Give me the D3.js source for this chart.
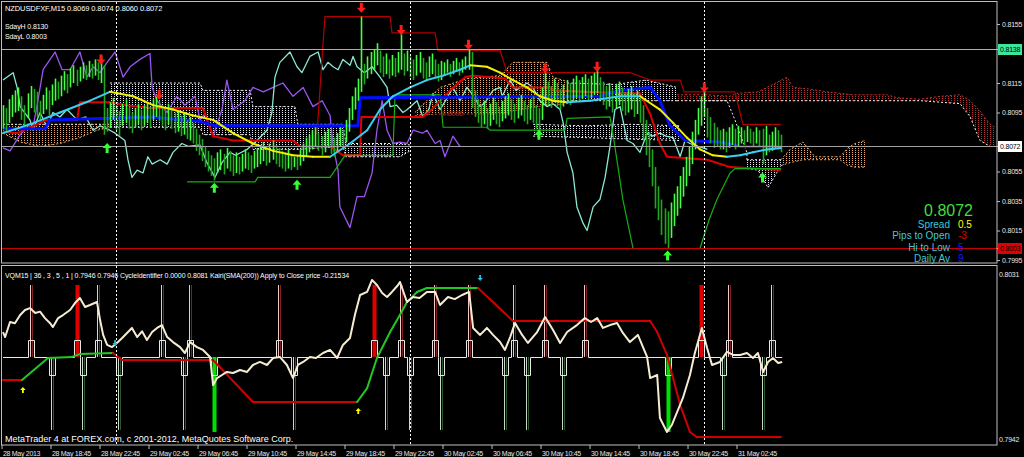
<!DOCTYPE html>
<html><head><meta charset="utf-8">
<script src="https://cdn.jsdelivr.net/npm/d3@7/dist/d3.min.js"></script>
<style>
html,body{margin:0;padding:0;background:#000;overflow:hidden;}
svg{display:block;}
text{font-family:"Liberation Sans",Arial,sans-serif;}
</style></head><body>
<svg id="chart" width="1024" height="457"></svg>
<script>
// ---- price bars, M15 (high / low per bar) ----
var barHigh = [.8100,.8098,.8104,.8107,.8110, .8112,.8106,.8100,.8108,.8113, .8111,.8109,.8103,.8107,.8112,
 .8110,.8114,.8118,.8116,.8120, .8123,.8121,.8125,.8127,.8124, .8126,.8129,.8127,.8130,.8128,
 .8131,.8129,.8133,.8127,.8098, .8102,.8105,.8100,.8096,.8101, .8104,.8099,.8095,.8098,.8101,
 .8097,.8100,.8102,.8099,.8104, .8107,.8103,.8100,.8097,.8101, .8098,.8095,.8096,.8093,.8095,
 .8090,.8092,.8088,.8084,.8080, .8077,.8072,.8069,.8066,.8064, .8068,.8070,.8067,.8071,.8069,
 .8066,.8068,.8065,.8067,.8070, .8068,.8066,.8069,.8071,.8073, .8075,.8072,.8074,.8076,.8073,
 .8071,.8069,.8068,.8070,.8067, .8065,.8066,.8070,.8074,.8078, .8080,.8083,.8085,.8081,.8079,
 .8082,.8084,.8080,.8078,.8081, .8085,.8083,.8090,.8098,.8106, .8112,.8118,.8160,.8128,.8133,
 .8136,.8138,.8142,.8137,.8133, .8135,.8131,.8134,.8132,.8136, .8148,.8135,.8137,.8133,.8131,
 .8134,.8136,.8132,.8129,.8133, .8135,.8131,.8128,.8130,.8129, .8131,.8128,.8130,.8132,.8129,
 .8131,.8133,.8138,.8136,.8110, .8104,.8100,.8103,.8098,.8101, .8105,.8102,.8099,.8103,.8106,
 .8108,.8104,.8101,.8105,.8107, .8103,.8100,.8104,.8106,.8100, .8098,.8112,.8122,.8116,.8113,
 .8118,.8115,.8111,.8114,.8117, .8115,.8118,.8120,.8117,.8119, .8121,.8118,.8120,.8122,.8124,
 .8119,.8116,.8113,.8115,.8111, .8114,.8116,.8112,.8109,.8111, .8113,.8108,.8110,.8105,.8100,
 .8090,.8082,.8070,.8058,.8045, .8036,.8030,.8028,.8034,.8040, .8045,.8052,.8058,.8065,.8072,
 .8082,.8090,.8098,.8106,.8112, .8098,.8092,.8088,.8085,.8083, .8084,.8082,.8085,.8087,.8084,
 .8086,.8085,.8083,.8086,.8084, .8082,.8085,.8083,.8084,.8086, .8080,.8082,.8085,.8083,.8080];
var barLow = [.8084,.8082,.8088,.8092,.8095, .8096,.8090,.8085,.8091,.8098, .8095,.8092,.8089,.8094,.8097,
 .8093,.8100,.8103,.8104,.8106, .8110,.8108,.8112,.8115,.8113, .8116,.8118,.8117,.8119,.8118,
 .8120,.8117,.8115,.8080,.8082, .8085,.8090,.8083,.8079,.8086, .8088,.8084,.8081,.8085,.8087,
 .8083,.8086,.8088,.8085,.8090, .8092,.8089,.8086,.8083,.8087, .8084,.8081,.8082,.8079,.8080,
 .8077,.8076,.8074,.8069,.8066, .8062,.8058,.8055,.8052,.8049, .8054,.8056,.8053,.8057,.8055,
 .8052,.8054,.8053,.8055,.8057, .8056,.8054,.8057,.8058,.8060, .8062,.8059,.8061,.8063,.8060,
 .8058,.8057,.8055,.8057,.8056, .8058,.8056,.8059,.8062,.8065, .8068,.8070,.8072,.8069,.8066,
 .8068,.8071,.8067,.8065,.8068, .8072,.8070,.8075,.8082,.8090, .8097,.8103,.8109,.8114,.8118,
 .8121,.8124,.8127,.8122,.8119, .8121,.8118,.8120,.8119,.8122, .8124,.8120,.8123,.8119,.8117,
 .8120,.8122,.8118,.8116,.8119, .8121,.8118,.8116,.8117,.8120, .8122,.8119,.8121,.8123,.8120,
 .8122,.8124,.8124,.8098,.8092, .8088,.8085,.8087,.8084,.8086, .8090,.8087,.8085,.8089,.8091,
 .8093,.8090,.8088,.8091,.8093, .8089,.8087,.8090,.8088,.8084, .8081,.8090,.8100,.8100,.8098,
 .8102,.8099,.8097,.8099,.8101, .8100,.8103,.8105,.8102,.8104, .8106,.8103,.8105,.8107,.8108,
 .8104,.8100,.8097,.8099,.8095, .8098,.8100,.8096,.8093,.8095, .8097,.8092,.8094,.8088,.8076,
 .8066,.8058,.8045,.8030,.8022, .8012,.8006,.8003,.8010,.8018, .8025,.8030,.8038,.8045,.8052,
 .8060,.8070,.8080,.8086,.8092, .8078,.8074,.8071,.8072,.8070, .8070,.8068,.8071,.8073,.8070,
 .8072,.8074,.8073,.8075,.8074, .8072,.8074,.8072,.8060,.8066, .8068,.8069,.8071,.8070,.8068];

// ---- time axis ----
var timeBars = [0,16,32,48,64,80,96,112,128,144,160,176,192,208,224,240];
var timeLabels = ["28 May 2013","28 May 18:45","28 May 22:45","29 May 02:45","29 May 06:45","29 May 10:45",
 "29 May 14:45","29 May 18:45","29 May 22:45","30 May 02:45","30 May 06:45","30 May 10:45",
 "30 May 14:45","30 May 18:45","30 May 22:45","31 May 02:45"];
var daySeparators = [37,133,229];

// ---- price axis (0.8135 and 0.8075 sit under the level boxes) ----
var priceTicks = [0.8155,0.8115,0.8095,0.8055,0.8035,0.8015,0.7995];
var levelPrices = [0.8138,0.8072,0.8003];  // SdayH, bid, SdayL

// ---- indicator lines on the price window: [bar, price] ----
var violetLine = [[0,.8071],[2.3,.8069],[5.6,.8080],[7.8,.8085],[9.8,.8085],[11.4,.8103],[13.1,.8124],[17,.8136],
 [19.3,.8124],[21.9,.8124],[25.1,.8136],[27.4,.8119],[29.4,.8126],[31.7,.8122],[34,.8129],[36.6,.8136],[39.2,.8119],
 [41.5,.8126],[44.7,.8131],[48,.8135],[48.7,.8112],[50.3,.8103],[53.6,.8095],[56.8,.8106],[59.4,.8100],[62.7,.8106],
 [64.3,.8090],[65.9,.8094],[68.6,.8079],[71.5,.8097],[73.1,.8117],[75.1,.8097],[79,.8103],[81.6,.8112],[85,.8109],
 [88.2,.8112],[91.4,.8115],[94.7,.8106],[98,.8112],[101.2,.8099],[104.2,.8103],[106.8,.8093],[107.8,.8072],
 [109.4,.8056],[110,.8031],[113.3,.8017],[115.6,.8038],[118,.8038],[120.5,.8054],[122.1,.8083],[123.8,.8103],
 [125.4,.8083],[127.3,.8074],[129.6,.8075],[131.9,.8074],[133.9,.8083],[137,.8081],[138.4,.8083],[141.1,.8074],
 [142.7,.8076],[144.3,.8065],[146.9,.8079],[149.2,.8072]];
var aquaLine = [[0,.8117],[3.3,.8122],[4.6,.8112],[5.6,.8099],[8.8,.8090],[9.8,.8083],[12.1,.8095],[14.4,.8085],
 [16.3,.8095],[18.6,.8092],[20.9,.8097],[24.2,.8090],[27,.8092],[29.4,.8083],[31.7,.8086],[34.9,.8083],[36.6,.8081],
 [39.8,.8076],[40.8,.8063],[42.1,.8051],[43.8,.8056],[45.7,.8054],[47.3,.8065],[48.7,.8060],[51.3,.8063],[53.6,.8060],
 [55.5,.8068],[58.4,.8074],[60.5,.8072],[64.3,.8073],[66.6,.8061],[69.2,.8051],[71.5,.8061],[74.1,.8068],[76,.8066],
 [79.7,.8070],[82.9,.8076],[86.2,.8083],[87.8,.8095],[88.8,.8119],[90.4,.8129],[93.7,.8136],[96,.8126],[97.6,.8122],
 [100.2,.8133],[102.9,.8136],[104.5,.8124],[106.1,.8129],[107.8,.8126],[109.4,.8124],[111,.8131],[113.3,.8127],
 [114.3,.8133],[115.6,.8126],[118,.8122],[120.5,.8126],[123.1,.8119],[125.4,.8112],[126.4,.8099],[128.5,.8100],
 [130.6,.8095],[132,.8097],[135.2,.8103],[137.1,.8092],[139,.8097],[140.4,.8108],[142.7,.8097],[144.5,.8103],
 [146.9,.8112],[149.2,.8103],[151.5,.8112],[153,.8108],[155.8,.8099],[157.5,.8102],[160,.8110],[162.3,.8112],
 [163,.8106],[165.6,.8117],[167.5,.8110],[171.1,.8115],[173,.8112],[175.3,.8103],[177.6,.8099],[179.6,.8101],
 [181.9,.8097],[182.9,.8088],[184.2,.8068],[186.1,.8054],[187.4,.8031],[189.4,.8020],[190.7,.8015],[192.7,.8031],
 [194.9,.8036],[196.6,.8051],[198.2,.8072],[199.8,.8097],[201.5,.8099],[203.8,.8076],[205.7,.8074],[208,.8068],
 [210.3,.8081],[212,.8079],[214.5,.8081],[216.5,.8079],[218.8,.8078],[221.1,.8065],[222.7,.8076],[224.3,.8074],
 [227,.8072],[230,.8070]];
// moving average, drawn cyan while rising and yellow while falling
var maLine = [[0,.8081],[8.8,.8087],[18.6,.8095],[28.4,.8103],[34.9,.8109],[42.5,.8106],[49,.8100],[55.5,.8097],
 [62,.8093],[68.6,.8090],[75.1,.8081],[81.6,.8074],[88.2,.8069],[94.7,.8066],[101.2,.8065],[106.8,.8065],
 [113.3,.8074],[118.9,.8083],[123.1,.8097],[127.3,.8106],[132.9,.8112],[138.4,.8117],[143.7,.8120],[149.2,.8124],
 [152.5,.8127],[158,.8126],[162.3,.8122],[166.5,.8117],[171.1,.8112],[175.3,.8106],[179.6,.8103],[184.2,.8102],
 [191.7,.8103],[201.5,.8106],[208,.8106],[214.5,.8097],[218.8,.8088],[223.3,.8078],[227.6,.8070],[231.8,.8066],
 [236.4,.8065],[240.7,.8066],[244.9,.8068],[249.5,.8070],[254,.8071]];
var blueLine = [[0,.8084],[13.7,.8084],[15.3,.8090],[31.7,.8091],[48,.8092],[64.3,.8089],[69.2,.8086],[115.9,.8086],
 [116.6,.8105],[194.9,.8106],[201.5,.8110],[211.3,.8112],[214.5,.8103],[217.8,.8086],[222.7,.8076],[234.1,.8075],
 [240.7,.8072],[254,.8072]];
var channelHigh = [[102.5,.8080],[105.1,.8160],[126.4,.8160],[127,.8149],[141.1,.8149],[142,.8137],[162.3,.8137],
 [164.6,.8122],[204.7,.8122],[211.3,.8117],[221.1,.8117],[222.4,.8109],[239,.8109],[241.6,.8087],[254,.8087]];
var redLine = [[0,.8082],[4.6,.8081],[14.4,.8090],[24.2,.8090],[25.1,.8102],[35,.8102],[40,.8100],[48,.8098],
 [65.3,.8098],[68.6,.8079],[75.1,.8076],[94.7,.8076],[97,.8072],[106.8,.8072],[111,.8066],[116.6,.8066],[117,.8092],
 [137,.8092],[140,.8097],[146,.8110],[151,.8119],[153.5,.8120],[164,.8118],[166.5,.8112],[178,.8112],[180,.8110],
 [201.5,.8108],[208,.8108],[211.3,.8094],[214.5,.8074],[216.8,.8065],[230,.8063],[237.4,.8058],[254,.8056]];
var channelLowA = [[60.1,.8048],[82.3,.8048],[83.2,.8051],[106.8,.8051],[111.7,.8066],[127.3,.8066],[128,.8107],
 [142.7,.8107],[143.7,.8085],[158,.8085],[159,.8083],[183.5,.8083],[184.2,.8091],[198.2,.8092],[199.5,.8076],
 [202.4,.8036],[205.7,.8003]];
var channelLowB = [[227.6,.8003],[230.5,.8022],[233.1,.8036],[237.4,.8054],[239,.8057],[254,.8057]];

// ---- clouds: [bar, upper, lower] ----
var cloudPeachA = [[0,.8087,.8081],[5.6,.8087,.8075],[12.1,.8087,.8072],[18.6,.8087,.8074],[25.1,.8087,.8078],
 [30.7,.8087,.8083],[34.9,.8087,.8085]];
var cloudWhiteA = [[34.9,.8115,.8085],[64.3,.8115,.8085],[65.3,.8110,.8080],[80.7,.8110,.8080],[81.6,.8099,.8070],
 [95.3,.8099,.8070],[96.3,.8087,.8070],[111,.8087,.8072],[112,.8074,.8065],[129.6,.8074,.8065],[132.9,.8073,.8069]];
var cloudPeachB = [[134.5,.8095,.8093],[142.7,.8112,.8094],[151.5,.8118,.8094],[162.3,.8120,.8094],[166.5,.8129,.8096],
 [177.6,.8129,.8100],[179.6,.8119,.8100],[184.2,.8116,.8101]];
var cloudWhiteB = [[173.1,.8087,.8079],[190,.8086,.8078],[205,.8087,.8077],[221.1,.8086,.8076]];
var cloudWhiteC = [[184.2,.8115,.8103],[200,.8114,.8103],[210,.8117,.8103],[220.1,.8112,.8103]];
var cloudRed = [[220.1,.8107,.8103],[230,.8107,.8103],[237.4,.8106,.8103],[239.6,.8108,.8103],[246.5,.8109,.8103],
 [251.4,.8114,.8103],[256,.8119,.8103],[258,.8112,.8103],[263,.8111,.8103],[269,.8109,.8103],[277.6,.8107,.8103],
 [288.7,.8107,.8103],[291.9,.8105,.8103],[299.4,.8104,.8103],[306,.8106,.8102],[312.5,.8107,.8101],
 [315.8,.8103,.8092],[319,.8096,.8076],[322.3,.8087,.8072],[323.9,.8085,.8072]];
var cloudPeachC = [[254,.8063,.8059],[257,.8070,.8061],[261.2,.8075,.8063],[265.1,.8065,.8063],[273.3,.8065,.8063],
 [275.9,.8071,.8059],[278.2,.8074,.8058],[281.5,.8076,.8058]];
var cloudWhiteD = [[242.9,.8063,.8057],[246.5,.8063,.8056],[249.8,.8063,.8044],[254,.8063,.8059]];
var spanEdge = [[227.6,.8103],[236.4,.8103],[239,.8090],[242.9,.8068],[242.9,.8063]];

// ---- fractal arrows: [bar, price] ----
var fractalUp = [[32,.8131],[51,.8107],[117,.8166],[130,.8151],[152,.8141],[177,.8125],[194,.8126],[229,.8112]];
var fractalDown = [[34,.8071],[69,.8044],[96,.8046],[175,.8080],[217,.7998],[248,.8051]];

// ---- sub window (oscillator units 0..100) ----
var kairiLine = [[0,63.1],[0.7,60.3],[2.3,68.7],[3.9,68],[5.6,72.6],[7.2,75.4],[8.8,76.5],[10.5,73.7],[12.1,74.5],
 [13.7,70.9],[15.3,68.2],[16.3,65.9],[18,70.9],[19.6,72.6],[21.9,75.4],[23.5,79.3],[25.1,82.1],[26.8,77.1],[28.4,78.2],
 [30.7,79.9],[31.7,69.8],[32.7,61.5],[34,55.9],[35.6,54.7],[37.2,57],[38.9,59.8],[40.5,62.6],[42.1,65.4],[43.8,60.3],
 [45.4,63.5],[47,58.7],[48.7,63.1],[50.3,65.4],[51.9,67],[53.6,60.3],[55.5,57.5],[57.8,54.7],[59.4,51.4],[61.1,57.5],
 [63.3,54.7],[65.3,53.1],[67.6,49.2],[68.6,33.5],[69.9,37.4],[71.5,39.1],[73.1,40.8],[75.1,40.2],[77.4,41.9],
 [79.7,40.8],[81.6,44.7],[83.9,46.4],[86.2,44.7],[88.2,48.6],[90.4,49.2],[92.7,44.7],[94.7,37.4],[96.3,44.7],
 [98,46.4],[100.2,49.2],[102.2,48.6],[104.5,51.4],[106.8,53.1],[109.1,48.6],[111,55.9],[113.3,59.8],[114.9,72.6],
 [116.6,83.8],[118.9,85.5],[120.5,92.2],[122.1,89.4],[123.8,84.9],[125.4,82.7],[127,85.5],[129,89.4],[129.6,91.1],
 [131.9,79.9],[133.9,82.7],[136,82.1],[138.4,85.5],[141.1,85.5],[142.7,78.2],[145.3,82.7],[147.5,81.5],[149.9,83.8],
 [152.2,85.5],[153.5,65.4],[155.8,61.5],[158,65.4],[160,61.5],[162.3,57.5],[163.9,53.1],[165.6,60.3],[167.2,68.2],
 [169.5,61.5],[171.4,57],[174.4,63.1],[177,71.5],[179.6,64.2],[181.9,57],[184.2,63.1],[187.4,67],[190,70.9],
 [192,68.7],[194,70.9],[195.9,65.4],[198.2,67],[200.5,68.2],[202.4,62.6],[204.7,57.5],[207.3,61.5],[210.3,49.2],
 [211.3,37.4],[213.6,39.1],[214.5,15.1],[216.8,7.3],[218.4,11.2],[220.1,18.4],[222,26.3],[224.3,39.1],[225.9,51.4],
 [228.2,65.4],[229.9,54.2],[231.5,44.7],[234.1,46.4],[236.4,52],[238.4,50.3],[240.7,50.3],[242.9,51.4],[244.9,48.6],
 [246.5,51.4],[248.2,40.8],[249.8,46.4],[251.4,48.6],[253.1,45.8],[254.4,46.4]];
// trend line, green while rising, red while falling
var trendLine = [[0,36.3],[6.2,36.3],[14.7,48.6],[22.5,49.2],[25.1,50.8],[35.9,51.4],[38.9,47.5],[68.6,47.5],
 [81.6,24],[115.6,24],[118.9,31.8],[122.1,48.6],[126.4,63.1],[129.6,72.6],[131.9,79.9],[135.2,85.5],[138.4,87.7],
 [155.1,87.7],[166.5,69.3],[211.3,69.3],[213.6,63.1],[216.8,50.3],[221.1,22.3],[224.3,7.3],[226.5,4.5],[254,4.5]];
var cycleHighs = [9,31,52,61,90,130,141,152,167,177,190,237,251];
var cycleMajorHighs = [24,121,228];
var cycleLows = [16,26,38,59,95,125,133,143,164,171,183,235,248];
var cycleMajorLows = [69,217];
var cycleBase = 49.2, cycleNotchUp = 58.7, cycleNotchDown = 39.1, cycleTop = 89.4, cycleBottom = 8.4, majorBottom = 7.3;
var buyMarks = [[6.5,30.7],[116,19]];
var sellMarks = [[36.6,57],[155.8,93.3]];
var subTicks = [100, 0];
var subTickLabels = ["0.8031","0.7942"];

// ---- info box ----
var infoPrice = "0.8072";
var infoNames = ["Spread","Pips to Open","Hi to Low","Daily Av"];
var infoValues = ["0.5","-3","5","9"];

// =================== drawing ===================
var svg = d3.select("#chart");
var x = d3.scaleLinear().domain([0, 254]).range([3, 780.9]);
var y = d3.scaleLinear().domain([0.79930, 0.81699]).range([263, 2]);
var ys = d3.scaleLinear().domain([0, 100]).range([445, 266]);

svg.append("rect").attr("width",1024).attr("height",457).attr("fill","#000");

var defs = svg.append("defs");
defs.append("clipPath").attr("id","clipMain").append("rect").attr("x",2).attr("y",2).attr("width",995).attr("height",261);
defs.append("clipPath").attr("id","clipSub").append("rect").attr("x",2).attr("y",266).attr("width",995).attr("height",179);
function dotPattern(id, color) {
	var p = defs.append("pattern").attr("id",id).attr("width",3).attr("height",2).attr("patternUnits","userSpaceOnUse");
	p.append("rect").attr("width",1).attr("height",1).attr("fill",color);
}
dotPattern("dotWhite","#e4e4f4");
dotPattern("dotPeach","#f0a868");
dotPattern("dotRed","#b83030");

var main = svg.append("g").attr("clip-path","url(#clipMain)");
var sub = svg.append("g").attr("clip-path","url(#clipSub)");

var priceLine = d3.line().x(function(d){return x(d[0]);}).y(function(d){return y(d[1]);});

// clouds
function cloud(data, pat, topColor, botColor) {
	var area = d3.area().x(function(d){return x(d[0]);})
		.y0(function(d){return y(d[2]);}).y1(function(d){return y(d[1]);});
	main.append("path").attr("d", area(data)).attr("fill","url(#"+pat+")");
	main.append("path").attr("d", priceLine(data.map(function(d){return [d[0],d[1]];})))
		.attr("fill","none").attr("stroke",topColor).attr("stroke-dasharray","2,2");
	main.append("path").attr("d", priceLine(data.map(function(d){return [d[0],d[2]];})))
		.attr("fill","none").attr("stroke",botColor).attr("stroke-dasharray","2,2");
}
cloud(cloudPeachA,"dotPeach","#f0f0f0","#f0a868");
cloud(cloudWhiteA,"dotWhite","#f0f0f0","#f0f0f0");
cloud(cloudPeachB,"dotPeach","#f0a868","#c04040");
cloud(cloudWhiteB,"dotWhite","#f0f0f0","#f0f0f0");
cloud(cloudWhiteC,"dotWhite","#f0f0f0","#f0f0f0");
cloud(cloudRed,"dotRed","#c03030","#f0f0f0");
cloud(cloudPeachC,"dotPeach","#f0a868","#f0a868");
cloud(cloudWhiteD,"dotWhite","#f0f0f0","#f0f0f0");
main.append("path").attr("d", priceLine(spanEdge)).attr("fill","none")
	.attr("stroke","#f0f0f0").attr("stroke-dasharray","2,2");

// horizontal levels
var levelColors = ["#50e0a0","#a0a0a0","#c80000"];
levelPrices.forEach(function(p, i) {
	svg.append("line").attr("x1",2).attr("x2",997).attr("y1",Math.round(y(p))+0.5).attr("y2",Math.round(y(p))+0.5)
		.attr("stroke",levelColors[i]);
});

// day separators
daySeparators.forEach(function(b) {
	svg.append("line").attr("x1",Math.round(x(b))+0.5).attr("x2",Math.round(x(b))+0.5).attr("y1",2).attr("y2",445)
		.attr("stroke","#ffffff").attr("stroke-dasharray","2,2");
});

function plain(g, data, color, w, scale) {
	var gen = d3.line().x(function(d){return x(d[0]);}).y(function(d){return scale(d[1]);});
	g.append("path").attr("d", gen(data)).attr("fill","none").attr("stroke",color)
		.attr("stroke-width",w).attr("stroke-linejoin","round");
}
plain(main, violetLine, "#9a55ee", 1.3, y);
plain(main, aquaLine, "#8ae8d4", 1.3, y);
plain(main, channelHigh, "#b00000", 1.2, y);
plain(main, redLine, "#e00000", 2, y);
plain(main, channelLowA, "#12b012", 1.2, y);
plain(main, channelLowB, "#12b012", 1.2, y);
plain(main, blueLine, "#0010ff", 3, y);

// price bars
main.selectAll("line.bar").data(barHigh).enter().append("line").attr("class","bar")
	.attr("x1",function(d,i){return Math.round(x(i))+0.5;})
	.attr("x2",function(d,i){return Math.round(x(i))+0.5;})
	.attr("y1",function(d){return y(d);})
	.attr("y2",function(d,i){return y(barLow[i]);})
	.attr("stroke",function(d,i){
		if (i === 0) return "#33ff33";
		return (d + barLow[i]) >= (barHigh[i-1] + barLow[i-1]) ? "#44ff44" : "#1fa81f";
	})
	.attr("stroke-width",1.6);

// colour-changing line
function twoTone(g, data, scale, upColor, downColor, startUp) {
	var up = startUp;
	for (var i = 1; i < data.length; i++) {
		if (data[i][1] > data[i-1][1]) up = true;
		else if (data[i][1] < data[i-1][1]) up = false;
		g.append("line").attr("x1",x(data[i-1][0])).attr("y1",scale(data[i-1][1]))
			.attr("x2",x(data[i][0])).attr("y2",scale(data[i][1]))
			.attr("stroke", up ? upColor : downColor).attr("stroke-width",2).attr("stroke-linecap","round");
	}
}
twoTone(main, maLine, y, "#38d0f0", "#f0f000", true);

// arrows
function arrow(g, cx, cy, dir, color, s) {
	// dir 1 = up, -1 = down ; arrow centred on cx,cy
	var h = 5*s, w = 4.5*s, sh = 1.5*s;
	var d = "M"+(cx-sh)+","+(cy+dir*h)+" v"+(-dir*h)+" h"+(-(w-sh))+" l"+w+","+(-dir*h)+" l"+w+","+(dir*h)+" h"+(-(w-sh))+" v"+(dir*h)+" z";
	g.append("path").attr("d",d).attr("fill",color);
}
fractalUp.forEach(function(d){ arrow(svg, x(d[0]), y(d[1]), -1, "#ff1a1a", 1); });
fractalDown.forEach(function(d){ arrow(svg, x(d[0]), y(d[1]), 1, "#33ff33", 1); });

// ---------- sub window ----------
var spikes = [];
cycleHighs.concat(cycleMajorHighs).forEach(function(b){ spikes.push([b, 1]); });
cycleLows.concat(cycleMajorLows).forEach(function(b){ spikes.push([b, -1]); });
spikes.sort(function(a,b){return a[0]-b[0];});

cycleHighs.forEach(function(b) {
	sub.append("line").attr("x1",Math.round(x(b))-0.5).attr("x2",Math.round(x(b))-0.5)
		.attr("y1",ys(cycleBase)).attr("y2",ys(cycleTop)).attr("stroke","#f0c8c8").attr("stroke-width",1);
	sub.append("line").attr("x1",Math.round(x(b))+1.5).attr("x2",Math.round(x(b))+1.5)
		.attr("y1",ys(cycleBase)).attr("y2",ys(cycleTop)).attr("stroke","#802020").attr("stroke-width",1);
});
cycleLows.forEach(function(b) {
	sub.append("line").attr("x1",Math.round(x(b))-0.5).attr("x2",Math.round(x(b))-0.5)
		.attr("y1",ys(cycleBase)).attr("y2",ys(cycleBottom)).attr("stroke","#c8d8c8").attr("stroke-width",1);
	sub.append("line").attr("x1",Math.round(x(b))+1.5).attr("x2",Math.round(x(b))+1.5)
		.attr("y1",ys(cycleBase)).attr("y2",ys(cycleBottom)).attr("stroke","#2a5a2a").attr("stroke-width",1);
});
cycleMajorHighs.forEach(function(b) {
	sub.append("rect").attr("x",Math.round(x(b))-1.5).attr("width",4)
		.attr("y",ys(cycleTop)).attr("height",ys(cycleBase)-ys(cycleTop)).attr("fill","#e00000");
});
cycleMajorLows.forEach(function(b) {
	sub.append("rect").attr("x",Math.round(x(b))-1.5).attr("width",4)
		.attr("y",ys(cycleBase)).attr("height",ys(majorBottom)-ys(cycleBase)).attr("fill","#00e000");
});

// base line with notches
var base = Math.round(ys(cycleBase))+0.5;
var pathStr = "M"+x(0)+","+base;
spikes.forEach(function(s) {
	var cx = Math.round(x(s[0]));
	var ny = s[1] > 0 ? Math.round(ys(cycleNotchUp))+0.5 : Math.round(ys(cycleNotchDown))+0.5;
	pathStr += " H"+(cx-2.5)+" V"+ny+" H"+(cx+3.5)+" V"+base;
});
pathStr += " H"+x(254.4);
sub.append("path").attr("d",pathStr).attr("fill","none").attr("stroke","#e8e8e8").attr("stroke-width",1);

twoTone(sub, trendLine, ys, "#22c822", "#d00000", false);
plain(sub, kairiLine, "#f6ecd2", 2, ys);

buyMarks.forEach(function(d){ arrow(svg, x(d[0]), ys(d[1]), 1, "#ffff00", 0.6); });
sellMarks.forEach(function(d){ arrow(svg, x(d[0]), ys(d[1]), -1, "#20c0e0", 0.6); });

// ---------- frames & axes ----------
svg.append("rect").attr("x",1.5).attr("y",1.5).attr("width",995.5).attr("height",261.5)
	.attr("fill","none").attr("stroke","#c0c0c0");
svg.append("rect").attr("x",1.5).attr("y",265.5).attr("width",995.5).attr("height",179.5)
	.attr("fill","none").attr("stroke","#c0c0c0");

var yAxis = d3.axisRight(y).tickValues(priceTicks).tickFormat(d3.format(".4f")).tickSize(3).tickPadding(2);
var ga = svg.append("g").attr("transform","translate(997,0)").call(yAxis);
ga.select(".domain").remove();
ga.selectAll("line").attr("stroke","#c0c0c0");
ga.selectAll("text").attr("fill","#e6e6e6").style("font-size","7px").style("letter-spacing","-0.2px");

// level boxes on the axis
var boxFill = ["#3ce69a","#ffffff","#e00000"];
levelPrices.forEach(function(p, i) {
	var yy = Math.round(y(p));
	svg.append("line").attr("x1",997).attr("x2",1000).attr("y1",yy+0.5).attr("y2",yy+0.5).attr("stroke","#c0c0c0");
	svg.append("rect").attr("x",998).attr("y",yy-5).attr("width",24).attr("height",11).attr("fill",boxFill[i]);
	svg.append("text").attr("x",1000).attr("y",yy+3).text(d3.format(".4f")(p))
		.attr("fill","#000").style("font-size","7px").style("letter-spacing","-0.2px");
});

// sub window min / max
subTicks.forEach(function(v, i) {
	svg.append("text").attr("x",999).attr("y",ys(v) + (i === 0 ? 11 : -3)).text(subTickLabels[i])
		.attr("fill","#e6e6e6").style("font-size","7px").style("letter-spacing","-0.2px");
});

// time axis
var xAxis = d3.axisBottom(x).tickValues(timeBars).tickFormat(function(d,i){return timeLabels[i];}).tickSize(4).tickPadding(0);
var gx = svg.append("g").attr("transform","translate(-1.5,445)").call(xAxis);
gx.select(".domain").remove();
gx.selectAll("line").attr("stroke","#c0c0c0");
gx.selectAll("text").attr("fill","#e6e6e6").attr("text-anchor","start").attr("dx",1).attr("dy","0.95em")
	.style("font-size","7px").style("letter-spacing","-0.3px");

// ---------- texts ----------
function label(tx, ty, str, size, color, anchor, ls) {
	svg.append("text").attr("x",tx).attr("y",ty).text(str).attr("fill",color)
		.attr("text-anchor",anchor || "start").style("font-size",size+"px").style("letter-spacing",(ls||0)+"px");
}
label(5, 11, "NZDUSDFXF,M15  0.8069 0.8074 0.8060 0.8072", 7.5, "#ffffff", "start", -0.1);
label(5, 29, "SdayH 0.8130", 7, "#ffffff", "start", -0.1);
label(5, 39, "SdayL 0.8003", 7, "#ffffff", "start", -0.1);
label(5, 278, "VQM15 | 36 , 3 , 5 , 1 | 0.7946 0.7946 CycleIdentifier 0.0000 0.8081 Kairi(SMA(200)) Apply to Close price -0.21534", 7, "#ffffff", "start", -0.1);
label(5, 442, "MetaTrader 4 at FOREX.com, c 2001-2012, MetaQuotes Software Corp.", 9, "#ffffff", "start", 0);

label(442, 116, "0.8095", 7, "#b02020", "start", -0.1);

label(973, 216, infoPrice, 16, "#40dd40", "end", 0);
var infoColors = ["#ffff00","#e00000","#1818ff","#1818ff"];
infoNames.forEach(function(n, i) {
	label(950, 228 + i*11.3, n, 10, "#3cc8d8", "end", 0);
	label(958, 228 + i*11.3, infoValues[i], 10, infoColors[i], "start", 0);
});
</script>
</body></html>
